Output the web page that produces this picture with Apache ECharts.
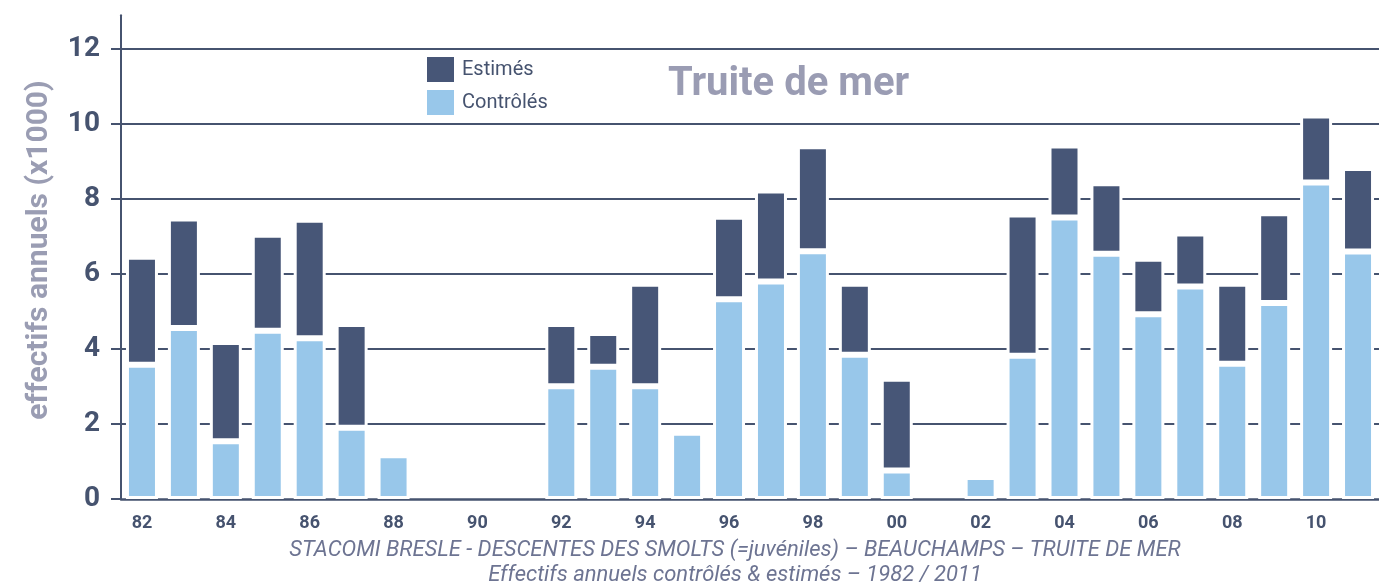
<!DOCTYPE html>
<html>
<head>
<meta charset="utf-8">
<script src="https://cdn.jsdelivr.net/npm/echarts@6/dist/echarts.min.js"></script>
<style>
    html, body { margin: 0; padding: 0; background: #fff; }
    #chart { width: 1379px; height: 588px; }
</style>
</head>
<body>
<div id="chart"></div>
<script>
// années 1982 -> 2011
var annees = ['82','83','84','85','86','87','88','89','90','91','92','93','94','95','96','97','98','99',
              '00','01','02','03','04','05','06','07','08','09','10','11'];
// effectifs contrôlés (x1000)
var controles = [3.58, 4.56, 1.54, 4.49, 4.29, 1.90, 1.17, null, null, null, 3.01, 3.53, 3.01, 1.77,
                 5.33, 5.80, 6.61, 3.85, 0.76, null, 0.59, 3.82, 7.51, 6.54, 4.93, 5.67, 3.61, 5.23, 8.44, 6.60];
// effectifs estimés (x1000), empilés au-dessus des contrôlés
var estimes = [2.88, 2.92, 2.65, 2.56, 3.16, 2.77, null, null, null, null, 1.66, 0.90, 2.73, null,
               2.20, 2.43, 2.80, 1.89, 2.45, null, null, 3.77, 1.92, 1.88, 1.48, 1.41, 2.13, 2.39, 1.79, 2.23];
var yTicks = [0, 2, 4, 6, 8, 10, 12];

var axisColor = '#46536f';

function drawChart() {
    var myChart = echarts.init(document.getElementById('chart'));
    var option = {
        animation: false,
        textStyle: { fontFamily: 'Roboto' },
        title: [{
            text: 'Truite de mer',
            left: 663,
            top: 60,
            textStyle: { fontFamily: 'Roboto', fontWeight: 'bold', fontSize: 40, color: '#9a9cb3' }
        }, {
            text: 'STACOMI BRESLE - DESCENTES DES SMOLTS (=juvéniles) – BEAUCHAMPS – TRUITE DE MER\nEffectifs annuels contrôlés & estimés – 1982 / 2011',
            left: 735,
            top: 538,
            textAlign: 'center',
            padding: 0,
            textStyle: { fontFamily: 'Roboto', fontStyle: 'italic', fontWeight: 'normal', fontSize: 22, lineHeight: 25, color: '#6d7492' }
        }],
        legend: {
            data: ['Estimés', 'Contrôlés'],
            orient: 'vertical',
            left: 427,
            top: 57,
            padding: 0,
            icon: 'rect',
            itemWidth: 27,
            itemHeight: 25,
            itemGap: 8,
            itemStyle: { borderWidth: 0 },
            textStyle: { fontFamily: 'Roboto', fontSize: 20, color: axisColor, padding: [0, 0, 0, 3] }
        },
        grid: {
            left: 121,
            top: 15.25,
            width: 1273,
            bottom: 89
        },
        xAxis: {
            type: 'category',
            data: annees,
            offset: 3,
            axisLine: { lineStyle: { color: axisColor, width: 2.5 } },
            axisTick: { show: false },
            axisLabel: {
                interval: 1,
                margin: 12,
                fontFamily: 'Roboto',
                fontWeight: 'bold',
                fontSize: 18,
                color: axisColor
            }
        },
        yAxis: {
            type: 'value',
            min: 0,
            max: 12.9,
            interval: 2,
            name: 'effectifs annuels (x1000)',
            nameLocation: 'middle',
            nameGap: 67,
            nameTextStyle: { fontFamily: 'Roboto', fontWeight: 'bold', fontSize: 30, color: '#9a9db3', padding: [0, 0, 0, 14] },
            axisLine: { show: true, lineStyle: { color: axisColor, width: 2 } },
            axisTick: { show: true, length: 10, customValues: yTicks, lineStyle: { color: axisColor, width: 2 } },
            axisLabel: {
                customValues: yTicks,
                margin: 21,
                fontFamily: 'Roboto',
                fontWeight: 'bold',
                fontSize: 28,
                color: axisColor
            },
            splitLine: { show: true, showMinLine: false, lineStyle: { color: axisColor, width: 2 } }
        },
        series: [{
            name: 'Contrôlés',
            type: 'bar',
            stack: 'total',
            barWidth: 32,
            itemStyle: { color: '#98c7ea', borderColor: '#fff', borderWidth: 3 },
            data: controles
        }, {
            name: 'Estimés',
            type: 'bar',
            stack: 'total',
            barWidth: 32,
            itemStyle: { color: '#475677', borderColor: '#fff', borderWidth: 3 },
            data: estimes
        }]
    };
    myChart.setOption(option);
}

drawChart();
</script>
</body>
</html>
